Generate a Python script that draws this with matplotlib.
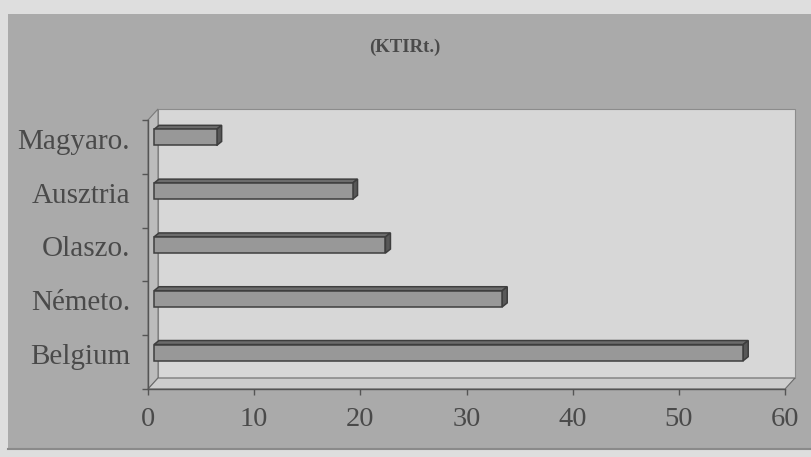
import numpy as np
import matplotlib
matplotlib.use("Agg")
import matplotlib.pyplot as plt
from matplotlib.patches import Polygon, Rectangle
from matplotlib.transforms import IdentityTransform, ScaledTranslation, offset_copy

# Data
categories = ["Belgium", "Németo.", "Olaszo.", "Ausztria", "Magyaro."]
values = [55.5, 32.8, 21.8, 18.7, 5.9]
xticks = [0, 10, 20, 30, 40, 50, 60]
title = "(KTIRt.)"

plt.rcParams["font.family"] = ["Liberation Serif", "DejaVu Serif"]

W, H, DPI = 811, 457, 100
fig = plt.figure(figsize=(W / DPI, H / DPI), dpi=DPI)
fig.patch.set_facecolor("#dedede")

# grey chart panel (behind the axes)
panel = Rectangle((8 / W, 1 - 449 / H), 1 - 8 / W, (449 - 14) / H,
                  transform=fig.transFigure, facecolor="#aaaaaa",
                  edgecolor="none", zorder=-2)
fig.add_artist(panel)
fig.add_artist(plt.Line2D([8 / W, 1], [1 - 449 / H, 1 - 449 / H],
                          transform=fig.transFigure, color="#8a8a8a", lw=1.5,
                          zorder=-1))

# front plane of the 3D plot area
ax = fig.add_axes([148 / W, 1 - 389 / H, (785 - 148) / W, (389 - 120) / H])
ax.set_facecolor("none")
ax.set_xlim(0, 60)
ax.set_ylim(-0.5, len(categories) - 0.5)

DX, DY = 10, 11          # depth of the walls (pixels)
BX, BY = 6, 9.5          # offset of the bar front faces from the front plane
TX, TY = 5, 4            # thickness of the bars in depth
BAR_H = 0.3

def disp(x, y, ox=0.0, oy=0.0):
    px, py = ax.transData.transform((x, y))
    return (px + ox, py + oy)

def poly(pts, fc, ec="#4a4a4a", lw=0.8, z=1):
    p = Polygon(pts, closed=True, facecolor=fc, edgecolor=ec, lw=lw,
                transform=IdentityTransform(), clip_on=False, zorder=z)
    ax.add_artist(p)

y0, y1 = ax.get_ylim()
x0, x1 = ax.get_xlim()

# back wall
poly([disp(x0, y0, DX, DY), disp(x1, y0, DX, DY), disp(x1, y1, DX, DY),
      disp(x0, y1, DX, DY)], "#d7d7d7", ec="#8c8c8c", z=0.5)
# side wall
poly([disp(x0, y0), disp(x0, y0, DX, DY), disp(x0, y1, DX, DY),
      disp(x0, y1)], "#bcbcbc", ec="#7a7a7a", z=0.6)
# floor
poly([disp(x0, y0), disp(x1, y0), disp(x1, y0, DX, DY),
      disp(x0, y0, DX, DY)], "#cdcdcd", ec="#6a6a6a", z=0.7)

# bars: front faces via barh, top and end faces as parallelograms
ypos = np.arange(len(categories))
front = offset_copy(ax.transData, fig=fig, x=BX, y=BY, units="dots")
ax.barh(ypos, values, height=BAR_H, left=0, color="#989898",
        edgecolor="#3e3e3e", linewidth=1.1, transform=front, zorder=3)
for yi, v in zip(ypos, values):
    top = yi + BAR_H / 2
    bot = yi - BAR_H / 2
    poly([disp(0, top, BX, BY), disp(v, top, BX, BY),
          disp(v, top, BX + TX, BY + TY), disp(0, top, BX + TX, BY + TY)],
         "#6c6c6c", ec="#3e3e3e", lw=1.1, z=2)
    poly([disp(v, bot, BX, BY), disp(v, bot, BX + TX, BY + TY),
          disp(v, top, BX + TX, BY + TY), disp(v, top, BX, BY)],
         "#585858", ec="#3e3e3e", lw=1.1, z=2)

# axes styling
for s in ("top", "right"):
    ax.spines[s].set_visible(False)
for s in ("left", "bottom"):
    ax.spines[s].set_color("#555555")
    ax.spines[s].set_linewidth(1.0)
    ax.spines[s].set_zorder(1)

ax.set_xticks(xticks)
ax.set_xticklabels([str(t) for t in xticks])
ax.tick_params(axis="x", direction="out", length=4, width=1, color="#555555",
               pad=9, labelsize=20.5, labelcolor="#4a4a4a")

ax.set_yticks(ypos)
ax.set_yticklabels(categories)
ax.set_yticks(np.arange(-0.5, len(categories)), minor=True)
ax.tick_params(axis="y", which="major", length=0, pad=13, labelsize=21,
               labelcolor="#4a4a4a")
ax.tick_params(axis="y", which="minor", direction="out", length=4, width=1,
               color="#555555")
lift = ScaledTranslation(0, 8 / DPI, fig.dpi_scale_trans)
for lbl in ax.get_yticklabels():
    lbl.set_transform(lbl.get_transform() + lift)

fig.text(405 / W, 1 - 47 / H, title, ha="center", va="center",
         fontsize=13.5, fontweight="bold", color="#4a4a4a")

fig.savefig("out.png", dpi=DPI, facecolor=fig.get_facecolor())
